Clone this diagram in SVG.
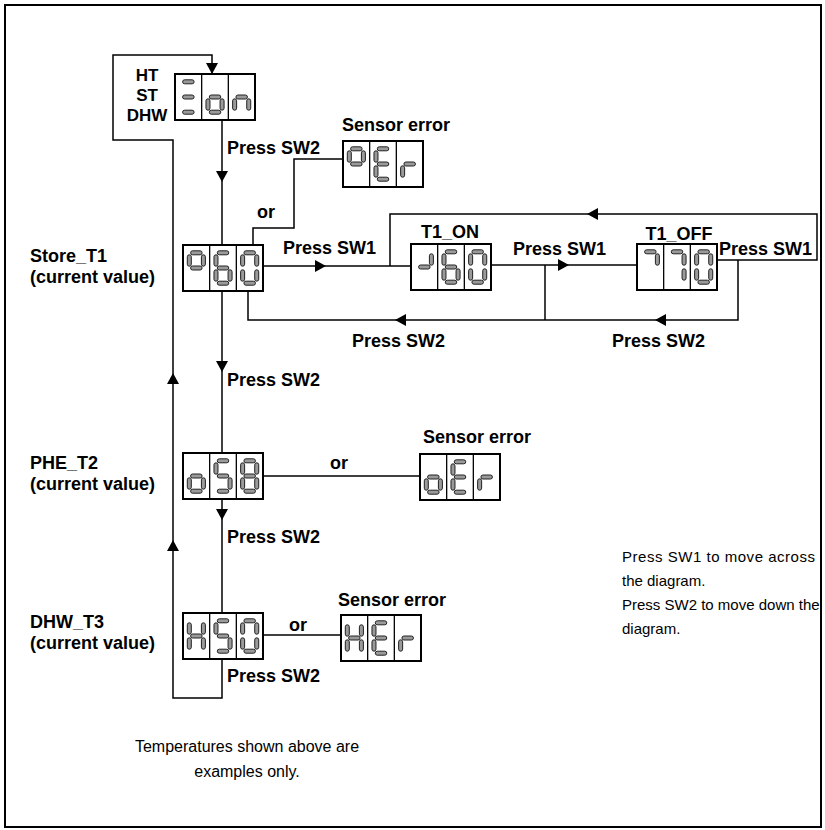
<svg xmlns="http://www.w3.org/2000/svg" width="825" height="830" viewBox="0 0 825 830">
<style>
.b{font-family:"Liberation Sans",Arial,sans-serif;font-weight:bold;font-size:18px;fill:#000}
.r{font-family:"Liberation Sans",Arial,sans-serif;font-size:15px;fill:#000}
.ln{fill:none;stroke:#000;stroke-width:1.5}
.box{fill:#fff;stroke:#000;stroke-width:2}
.dv{stroke:#000;stroke-width:1.3}
.sg{fill:#9a9a9a;stroke:#222;stroke-width:1}
</style>
<defs>
<marker id="ar" markerUnits="userSpaceOnUse" markerWidth="12" markerHeight="12" refX="11" refY="6" orient="auto">
<path d="M0,0 L11,6 L0,12 z" fill="#000"/>
</marker>
<rect id="sa" class="sg" x="7.6" y="5.8" width="11.5" height="4" rx="2"/>
<rect id="sf" class="sg" x="4.3" y="9.8" width="4" height="11.4" rx="2"/>
<rect id="sb" class="sg" x="18.4" y="9.8" width="4" height="11.4" rx="2"/>
<rect id="sgm" class="sg" x="7.6" y="21" width="11.5" height="4" rx="2"/>
<rect id="se" class="sg" x="4.3" y="24.8" width="4" height="11.4" rx="2"/>
<rect id="sc" class="sg" x="18.4" y="24.8" width="4" height="11.4" rx="2"/>
<rect id="sd" class="sg" x="7.6" y="36.2" width="11.5" height="4" rx="2"/>
<g id="frame">
<rect class="box" x="0" y="0" width="80" height="46"/>
<line class="dv" x1="26.67" y1="0" x2="26.67" y2="46"/>
<line class="dv" x1="53.33" y1="0" x2="53.33" y2="46"/>
</g>
</defs>

<rect x="5" y="5" width="816" height="822" fill="#fff" stroke="#000" stroke-width="2"/>

<g id="connectors">
<path class="ln" d="M222,659 V698 H173 V540" marker-end="url(#ar)"/>
<path class="ln" d="M173,540 V373" marker-end="url(#ar)"/>
<path class="ln" d="M173,373 V140 H113 V55 H212 V74" marker-end="url(#ar)"/>
<path class="ln" d="M222,120 V182" marker-end="url(#ar)"/>
<path class="ln" d="M222,182 V245"/>
<path class="ln" d="M222,290 V372" marker-end="url(#ar)"/>
<path class="ln" d="M222,372 V453"/>
<path class="ln" d="M222,499 V520" marker-end="url(#ar)"/>
<path class="ln" d="M222,520 V613"/>
<path class="ln" d="M253,245 V228 H294 V159 H343"/>
<path class="ln" d="M263,266 H326" marker-end="url(#ar)"/>
<path class="ln" d="M326,266 H411"/>
<path class="ln" d="M490,265 H569" marker-end="url(#ar)"/>
<path class="ln" d="M569,265 H637"/>
<path class="ln" d="M717,260 H817 V214 H587" marker-end="url(#ar)"/>
<path class="ln" d="M587,214 H390 V266"/>
<path class="ln" d="M738,260 V320 H655" marker-end="url(#ar)"/>
<path class="ln" d="M655,320 H395" marker-end="url(#ar)"/>
<path class="ln" d="M395,320 H248 V290"/>
<path class="ln" d="M545,265 V320"/>
<path class="ln" d="M263,476 H420"/>
<path class="ln" d="M264,635 H341"/>
</g>

<g id="mode">
<use href="#frame" x="175" y="74"/>
<use href="#sa" x="175" y="74"/><use href="#sgm" x="175" y="74"/><use href="#sd" x="175" y="74"/>
<use href="#sgm" x="201.67" y="74"/><use href="#se" x="201.67" y="74"/><use href="#sc" x="201.67" y="74"/><use href="#sd" x="201.67" y="74"/>
<use href="#sgm" x="228.33" y="74"/><use href="#se" x="228.33" y="74"/><use href="#sc" x="228.33" y="74"/>
<text class="b" x="147" y="81" text-anchor="middle" style="font-size:17px">HT</text>
<text class="b" x="147" y="101" text-anchor="middle" style="font-size:17px">ST</text>
<text class="b" x="147" y="121" text-anchor="middle" style="font-size:17px">DHW</text>
</g>

<g id="err1">
<use href="#frame" x="343" y="141"/>
<use href="#sa" x="343" y="141"/><use href="#sb" x="343" y="141"/><use href="#sf" x="343" y="141"/><use href="#sgm" x="343" y="141"/>
<use href="#sa" x="369.67" y="141"/><use href="#sf" x="369.67" y="141"/><use href="#sgm" x="369.67" y="141"/><use href="#se" x="369.67" y="141"/><use href="#sd" x="369.67" y="141"/>
<use href="#sgm" x="396.33" y="141"/><use href="#se" x="396.33" y="141"/>
<text class="b" x="342" y="131">Sensor error</text>
</g>

<g id="store">
<use href="#frame" x="183" y="245"/>
<use href="#sa" x="183" y="245"/><use href="#sb" x="183" y="245"/><use href="#sf" x="183" y="245"/><use href="#sgm" x="183" y="245"/>
<use href="#sa" x="209.67" y="245"/><use href="#sf" x="209.67" y="245"/><use href="#sgm" x="209.67" y="245"/><use href="#se" x="209.67" y="245"/><use href="#sc" x="209.67" y="245"/><use href="#sd" x="209.67" y="245"/>
<use href="#sa" x="236.33" y="245"/><use href="#sb" x="236.33" y="245"/><use href="#sc" x="236.33" y="245"/><use href="#sd" x="236.33" y="245"/><use href="#se" x="236.33" y="245"/><use href="#sf" x="236.33" y="245"/>
<text class="b" x="30" y="262">Store_T1</text>
<text class="b" x="30" y="283">(current value)</text>
</g>

<g id="t1on">
<use href="#frame" x="411" y="244"/>
<use href="#sb" x="411" y="244"/><use href="#sgm" x="411" y="244"/>
<use href="#sa" x="437.67" y="244"/><use href="#sf" x="437.67" y="244"/><use href="#sgm" x="437.67" y="244"/><use href="#se" x="437.67" y="244"/><use href="#sc" x="437.67" y="244"/><use href="#sd" x="437.67" y="244"/>
<use href="#sa" x="464.33" y="244"/><use href="#sb" x="464.33" y="244"/><use href="#sc" x="464.33" y="244"/><use href="#sd" x="464.33" y="244"/><use href="#se" x="464.33" y="244"/><use href="#sf" x="464.33" y="244"/>
<text class="b" x="450" y="238" text-anchor="middle">T1_ON</text>
</g>

<g id="t1off">
<use href="#frame" x="637" y="244"/>
<use href="#sa" x="637" y="244"/><use href="#sb" x="637" y="244"/>
<use href="#sa" x="663.67" y="244"/><use href="#sb" x="663.67" y="244"/><use href="#sc" x="663.67" y="244"/>
<use href="#sa" x="690.33" y="244"/><use href="#sb" x="690.33" y="244"/><use href="#sc" x="690.33" y="244"/><use href="#sd" x="690.33" y="244"/><use href="#se" x="690.33" y="244"/><use href="#sf" x="690.33" y="244"/>
<text class="b" x="679" y="240" text-anchor="middle">T1_OFF</text>
</g>

<g id="phe">
<use href="#frame" x="183" y="453"/>
<use href="#sgm" x="183" y="453"/><use href="#se" x="183" y="453"/><use href="#sc" x="183" y="453"/><use href="#sd" x="183" y="453"/>
<use href="#sa" x="209.67" y="453"/><use href="#sf" x="209.67" y="453"/><use href="#sgm" x="209.67" y="453"/><use href="#sc" x="209.67" y="453"/><use href="#sd" x="209.67" y="453"/>
<use href="#sa" x="236.33" y="453"/><use href="#sb" x="236.33" y="453"/><use href="#sc" x="236.33" y="453"/><use href="#sd" x="236.33" y="453"/><use href="#se" x="236.33" y="453"/><use href="#sf" x="236.33" y="453"/><use href="#sgm" x="236.33" y="453"/>
<text class="b" x="30" y="469">PHE_T2</text>
<text class="b" x="30" y="490">(current value)</text>
</g>

<g id="err2">
<use href="#frame" x="420" y="454"/>
<use href="#sgm" x="420" y="454"/><use href="#se" x="420" y="454"/><use href="#sc" x="420" y="454"/><use href="#sd" x="420" y="454"/>
<use href="#sa" x="446.67" y="454"/><use href="#sf" x="446.67" y="454"/><use href="#sgm" x="446.67" y="454"/><use href="#se" x="446.67" y="454"/><use href="#sd" x="446.67" y="454"/>
<use href="#sgm" x="473.33" y="454"/><use href="#se" x="473.33" y="454"/>
<text class="b" x="423" y="443">Sensor error</text>
</g>

<g id="dhw">
<use href="#frame" x="183" y="613"/>
<use href="#sf" x="183" y="613"/><use href="#sb" x="183" y="613"/><use href="#sgm" x="183" y="613"/><use href="#se" x="183" y="613"/><use href="#sc" x="183" y="613"/>
<use href="#sa" x="209.67" y="613"/><use href="#sf" x="209.67" y="613"/><use href="#sgm" x="209.67" y="613"/><use href="#sc" x="209.67" y="613"/><use href="#sd" x="209.67" y="613"/>
<use href="#sa" x="236.33" y="613"/><use href="#sb" x="236.33" y="613"/><use href="#sc" x="236.33" y="613"/><use href="#sd" x="236.33" y="613"/><use href="#se" x="236.33" y="613"/><use href="#sf" x="236.33" y="613"/>
<text class="b" x="30" y="628">DHW_T3</text>
<text class="b" x="30" y="649">(current value)</text>
</g>

<g id="err3">
<use href="#frame" x="341" y="615"/>
<use href="#sf" x="341" y="615"/><use href="#sb" x="341" y="615"/><use href="#sgm" x="341" y="615"/><use href="#se" x="341" y="615"/><use href="#sc" x="341" y="615"/>
<use href="#sa" x="367.67" y="615"/><use href="#sf" x="367.67" y="615"/><use href="#sgm" x="367.67" y="615"/><use href="#se" x="367.67" y="615"/><use href="#sd" x="367.67" y="615"/>
<use href="#sgm" x="394.33" y="615"/><use href="#se" x="394.33" y="615"/>
<text class="b" x="338" y="606">Sensor error</text>
</g>

<g id="labels">
<text class="b" x="227" y="154">Press SW2</text>
<text class="b" x="257" y="218">or</text>
<text class="b" x="283" y="254">Press SW1</text>
<text class="b" x="513" y="255">Press SW1</text>
<text class="b" x="719" y="255">Press SW1</text>
<text class="b" x="352" y="347">Press SW2</text>
<text class="b" x="612" y="347">Press SW2</text>
<text class="b" x="227" y="386">Press SW2</text>
<text class="b" x="339" y="469" text-anchor="middle">or</text>
<text class="b" x="227" y="543">Press SW2</text>
<text class="b" x="298" y="631" text-anchor="middle">or</text>
<text class="b" x="227" y="682">Press SW2</text>
<text class="r" x="622" y="562" textLength="193" lengthAdjust="spacing">Press SW1 to move across</text>
<text class="r" x="622" y="586">the diagram.</text>
<text class="r" x="622" y="610">Press SW2 to move down the</text>
<text class="r" x="622" y="634">diagram.</text>
<text class="r" x="247" y="752" text-anchor="middle" style="font-size:16px">Temperatures shown above are</text>
<text class="r" x="247" y="777" text-anchor="middle" style="font-size:16px">examples only.</text>
</g>
</svg>
